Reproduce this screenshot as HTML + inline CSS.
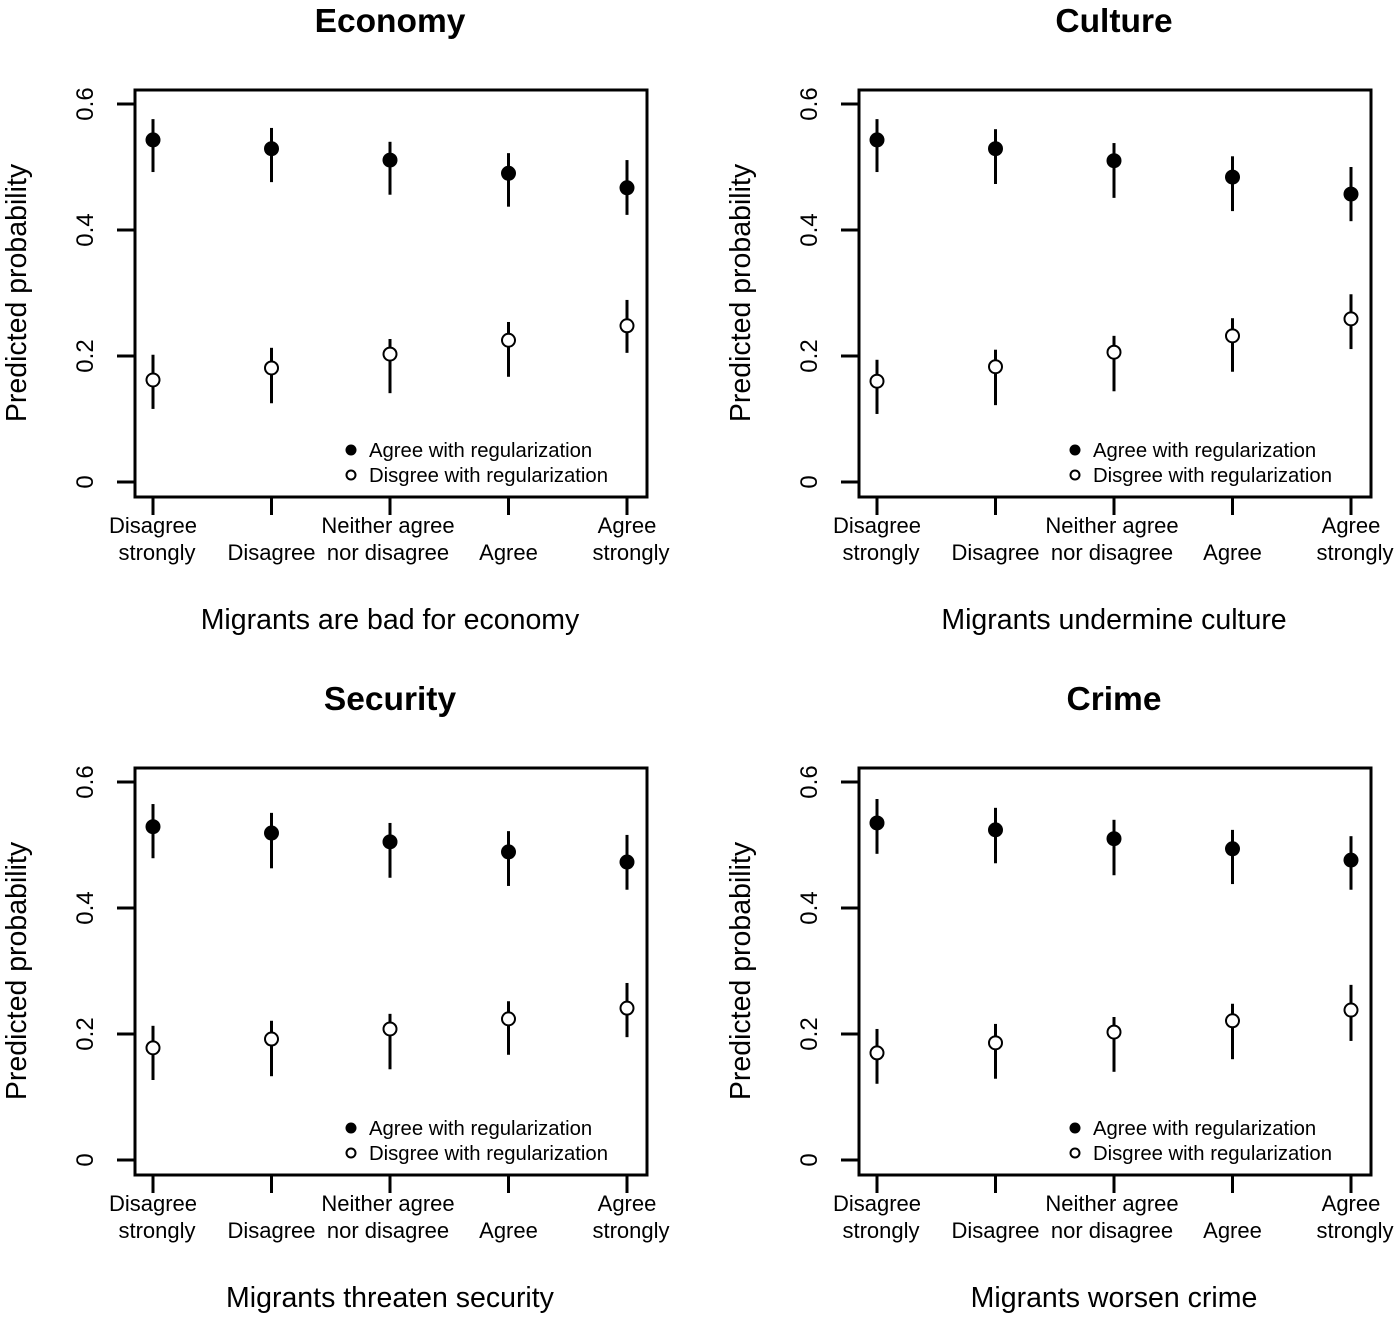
<!DOCTYPE html>
<html><head><meta charset="utf-8"><style>
body{margin:0;background:#fff}
svg text{font-family:"Liberation Sans",Arial,sans-serif;fill:#000}
</style></head><body>
<svg id="c" width="1400" height="1321" xmlns="http://www.w3.org/2000/svg"></svg>
<script>
const titles=["Economy","Culture","Security","Crime"];
const xTitles=["Migrants are bad for economy","Migrants undermine culture","Migrants threaten security","Migrants worsen crime"];
const categories=[["Disagree","strongly"],["","Disagree"],["Neither agree","nor disagree"],["","Agree"],["Agree","strongly"]];
const yTicks=[0,0.2,0.4,0.6];
const yTickLabels=["0","0.2","0.4","0.6"];
const legendLabels=["Agree with regularization","Disgree with regularization"];
const agreeEst=[[.543,.529,.511,.490,.467],[.543,.529,.510,.484,.457],[.529,.519,.505,.489,.473],[.535,.524,.510,.494,.476]];
const agreeLo=[[.492,.476,.456,.437,.424],[.492,.473,.451,.430,.414],[.479,.463,.448,.435,.429],[.486,.471,.452,.438,.429]];
const agreeHi=[[.576,.562,.540,.522,.511],[.576,.560,.538,.517,.500],[.565,.551,.535,.522,.516],[.573,.559,.540,.524,.514]];
const disEst=[[.162,.181,.203,.225,.248],[.160,.183,.206,.232,.259],[.178,.192,.208,.224,.241],[.170,.186,.203,.221,.238]];
const disLo=[[.116,.125,.141,.167,.205],[.108,.122,.144,.175,.211],[.127,.133,.144,.167,.195],[.121,.129,.140,.160,.189]];
const disHi=[[.202,.213,.227,.254,.289],[.194,.210,.232,.260,.298],[.213,.221,.232,.252,.281],[.208,.216,.227,.248,.278]];

const svg=document.getElementById('c');
const NS="http://www.w3.org/2000/svg";
function mk(tag,attrs,parent){const e=document.createElementNS(NS,tag);for(const k in attrs)e.setAttribute(k,attrs[k]);(parent||svg).appendChild(e);return e;}
for(let p=0;p<4;p++){
  const ox=(p%2)*724, oy=Math.floor(p/2)*678;
  const g=mk('g',{});
  
  
  const L=135+ox,R=647+ox,T=90+oy,B=497+oy;
  const y=v=>482+oy-v*630;
  const x=i=>153+ox+i*118.5;
  const t=mk('text',{x:390+ox,y:32+oy,'text-anchor':'middle','font-size':33.5,'font-weight':'bold'},g);t.textContent=titles[p];
  
  const box=mk('rect',{x:L,y:T,width:R-L,height:B-T,fill:'none',stroke:'#000','stroke-width':3},g);
  
  yTicks.forEach((v,i)=>{
    const tk=mk('line',{x1:117+ox,x2:L,y1:y(v),y2:y(v),stroke:'#000','stroke-width':3},g);
    
    const tl=mk('text',{x:0,y:0,'text-anchor':'middle','font-size':24,transform:`translate(${93+ox},${y(v)}) rotate(-90)`},g);tl.textContent=yTickLabels[i];
    
  });
  const yt=mk('text',{x:0,y:0,'text-anchor':'middle','font-size':28.5,transform:`translate(${26+ox},${293+oy}) rotate(-90)`},g);yt.textContent="Predicted probability";
  
  categories.forEach((c,i)=>{
    const tk=mk('line',{x1:x(i),x2:x(i),y1:B,y2:B+18,stroke:'#000','stroke-width':3},g);
    
    c.forEach((s,j)=>{if(!s)return;const tl=mk('text',{x:x(i)+(j==1&&c[0]&&i!=2?4:0)+(i==2?-2:0),y:533+oy+j*27,'text-anchor':'middle','font-size':22},g);tl.textContent=s;
      });
  });
  const xt=mk('text',{x:390+ox,y:629+oy,'text-anchor':'middle','font-size':28.5},g);xt.textContent=xTitles[p];
  
  for(let i=0;i<5;i++){
    const e1=mk('line',{x1:x(i),x2:x(i),y1:y(agreeLo[p][i]),y2:y(agreeHi[p][i]),stroke:'#000','stroke-width':3},g);
    
    const c1=mk('circle',{cx:x(i),cy:y(agreeEst[p][i]),r:7.5,fill:'#000'},g);
    
    const e2=mk('line',{x1:x(i),x2:x(i),y1:y(disLo[p][i]),y2:y(disHi[p][i]),stroke:'#000','stroke-width':3},g);
    
    const c2=mk('circle',{cx:x(i),cy:y(disEst[p][i]),r:6.5,fill:'#fff',stroke:'#000','stroke-width':2},g);
    
  }
  const lg=mk('g',{},g);
  
  const d1=mk('circle',{cx:351+ox,cy:450+oy,r:5.5,fill:'#000'},lg);
  
  const d2=mk('circle',{cx:351+ox,cy:475+oy,r:4.5,fill:'#fff',stroke:'#000','stroke-width':2},lg);
  
  legendLabels.forEach((s,i)=>{const tl=mk('text',{x:369+ox,y:457+oy+i*25,'font-size':20.3},lg);tl.textContent=s;
    });
}
</script>
</body></html>
